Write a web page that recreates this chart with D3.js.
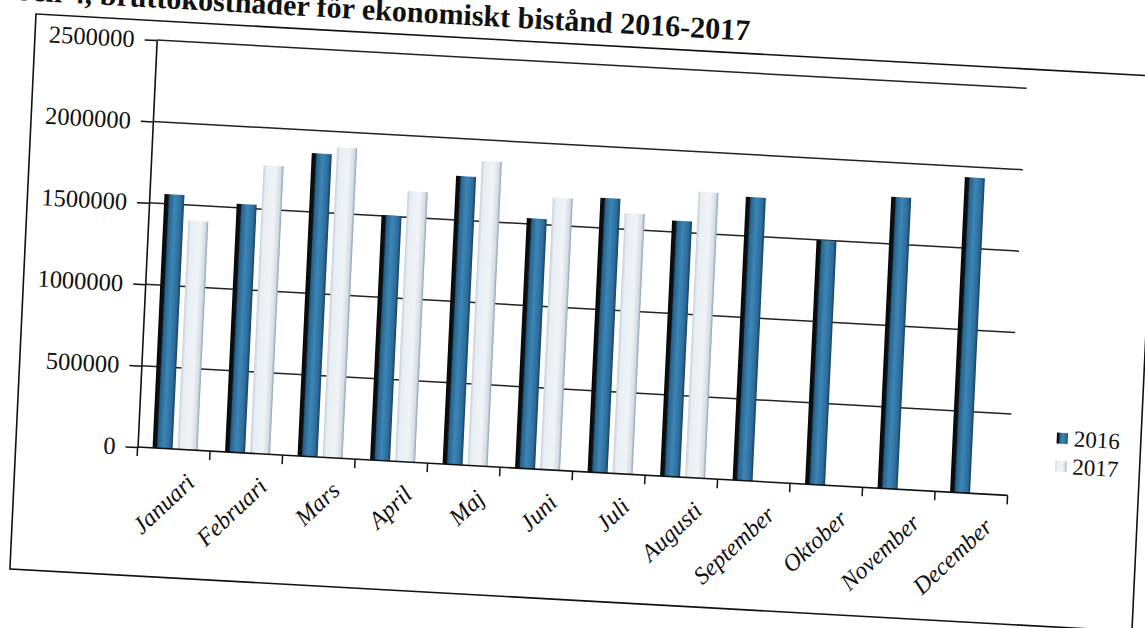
<!DOCTYPE html>
<html>
<head>
<meta charset="utf-8">
<script src="https://cdn.jsdelivr.net/npm/d3@7"></script>
<style>
  body { margin: 0; background: #fff; overflow: hidden; }
  text { font-family: "Liberation Serif", "DejaVu Serif", serif; fill: #111; }
</style>
</head>
<body>
<div id="chart"></div>
<script>
// data
var months = ["Januari", "Februari", "Mars", "April", "Maj", "Juni", "Juli",
              "Augusti", "September", "Oktober", "November", "December"];
var years = ["2016", "2017"];
var values2016 = [1560000, 1525000, 1860000, 1505000, 1770000, 1535000,
                  1685000, 1570000, 1740000, 1500000, 1790000, 1935000];
var values2017 = [1405000, 1770000, 1905000, 1660000, 1870000, 1670000,
                  1600000, 1755000, null, null, null, null];
var yTicks = [0, 500000, 1000000, 1500000, 2000000, 2500000];
var title = "Tabell 4, bruttokostnader för ekonomiskt bistånd 2016-2017";

var svgWidth = 1145, svgHeight = 628;
var frameW = 1122, frameH = 555;
var margin = { left: 121.6, top: 19.3 };
var width = 870, height = 407;

var svg = d3.select("#chart").append("svg")
  .attr("width", svgWidth)
  .attr("height", svgHeight);

// gradients to mimic the printed bars
var defs = svg.append("defs");
var g1 = defs.append("linearGradient").attr("id", "dark");
[[0, "#050505"], [0.2, "#101418"], [0.26, "#24618c"], [0.55, "#3d86b6"], [0.85, "#2c6d9b"], [1, "#1a3f5a"]]
  .forEach(s => g1.append("stop").attr("offset", s[0]).attr("stop-color", s[1]));
var g2 = defs.append("linearGradient").attr("id", "light");
[[0, "#c4d0db"], [0.15, "#e8eef3"], [0.6, "#f1f4f7"], [0.88, "#d3dde6"], [1, "#8d9fb1"]]
  .forEach(s => g2.append("stop").attr("offset", s[0]).attr("stop-color", s[1]));

// the scan is tilted a little, so the whole page sits in a skewed group
var page = svg.append("g")
  .attr("transform", "matrix(1, 0.0555, -0.047, 1, 36, 14)");

page.append("rect")
  .attr("width", frameW).attr("height", frameH)
  .attr("fill", "none").attr("stroke", "#111").attr("stroke-width", 1.6);

page.append("text")
  .attr("x", 713).attr("y", -13)
  .attr("text-anchor", "end")
  .attr("font-size", 30).attr("font-weight", "bold")
  .text(title);

var chartGroup = page.append("g")
  .attr("transform", `translate(${margin.left}, ${margin.top})`);

var x = d3.scaleBand().domain(months).range([0, width]);
var xSub = d3.scaleBand().domain(years).range([15, 60]).paddingInner(0.2);
var y = d3.scaleLinear().domain([0, 2500000]).range([height, 0]);

// gridlines
chartGroup.selectAll(".grid")
  .data(yTicks.slice(1))
  .enter().append("line")
  .attr("x1", 0).attr("x2", width)
  .attr("y1", d => y(d)).attr("y2", d => y(d))
  .attr("stroke", "#222").attr("stroke-width", 1.5);

// bars
var rows = months.map((m, i) => ({ month: m, v: [values2016[i], values2017[i]] }));
var groups = chartGroup.selectAll(".month")
  .data(rows)
  .enter().append("g")
  .attr("transform", d => `translate(${x(d.month)},0)`);

groups.selectAll("rect")
  .data(d => years.map((yr, k) => ({ year: yr, value: d.v[k] })).filter(d => d.value != null))
  .enter().append("rect")
  .attr("x", d => xSub(d.year))
  .attr("width", xSub.bandwidth())
  .attr("y", d => y(d.value))
  .attr("height", d => height - y(d.value))
  .attr("fill", d => d.year == "2016" ? "url(#dark)" : "url(#light)");

// y axis
var yAxis = d3.axisLeft(y).tickValues(yTicks).tickSizeInner(12).tickSizeOuter(0)
  .tickPadding(10).tickFormat(d3.format("d"));
var yg = chartGroup.append("g").call(yAxis);
yg.select(".domain").attr("stroke", "#111").attr("stroke-width", 1.6);
yg.selectAll(".tick line").attr("stroke", "#111").attr("stroke-width", 1.5);
yg.selectAll(".tick text")
  .attr("font-size", 24.5)
  .attr("font-family", "Liberation Serif")
  .attr("fill", "#111");

// x axis line and ticks between the months
chartGroup.append("line")
  .attr("x1", 0).attr("x2", width)
  .attr("y1", height).attr("y2", height)
  .attr("stroke", "#111").attr("stroke-width", 1.6);

var edges = months.map(m => x(m)).concat([width]);
chartGroup.selectAll(".xtick")
  .data(edges)
  .enter().append("line")
  .attr("x1", d => d).attr("x2", d => d)
  .attr("y1", height).attr("y2", height + 9)
  .attr("stroke", "#111").attr("stroke-width", 1.5);

chartGroup.selectAll(".xlabel")
  .data(months)
  .enter().append("text")
  .attr("text-anchor", "end")
  .attr("font-size", 24)
  .attr("font-style", "italic")
  .attr("transform", d => `translate(${x(d) + x.bandwidth() / 2 + 24}, ${height + 34}) rotate(-46)`)
  .text(d => d);

// legend
var legend = page.append("g").attr("transform", "translate(1038, 366)");
var colors = ["url(#dark)", "url(#light)"];
years.forEach(function(yr, i) {
  legend.append("rect")
    .attr("x", 0).attr("y", i * 28 - 5)
    .attr("width", 11).attr("height", 11)
    .attr("fill", colors[i]);
  legend.append("text")
    .attr("x", 17).attr("y", i * 28 + 8)
    .attr("font-size", 23)
    .text(yr);
});
</script>
</body>
</html>
